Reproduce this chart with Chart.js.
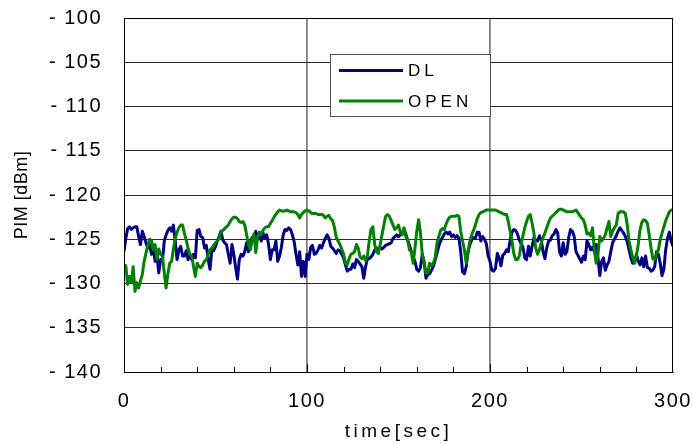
<!DOCTYPE html>
<html>
<head>
<meta charset="utf-8">
<script src="https://cdn.jsdelivr.net/npm/chart.js@4.4.1/dist/chart.umd.min.js"></script>
<style>
  html, body { margin: 0; padding: 0; background: #ffffff; }
  #wrap { width: 693px; height: 444px; }
</style>
</head>
<body>
<div id="wrap"><canvas id="c" width="693" height="444"></canvas></div>
<script>
// ---- data (one sample per second, 0..300 s) ----
const sampleCount = 301;
const timeSec = Array.from({ length: sampleCount }, (_, i) => i);

const dlValues = [
  -126.4, -124.9, -123.8, -123.6, -123.9, -123.7, -123.6, -123.6, -124.7, -125.6,
  -124.1, -124.7, -125.4, -126.0, -125.6, -126.7, -126.0, -127.5, -126.7, -128.8,
  -127.3, -127.5, -125.2, -124.5, -124.0, -123.7, -124.1, -123.4, -125.2, -127.3,
  -126.2, -125.8, -126.9, -126.9, -126.3, -127.3, -126.9, -127.3, -126.7, -127.1,
  -124.0, -123.9, -124.7, -124.8, -126.0, -125.7, -127.3, -128.4, -126.2, -126.3,
  -125.8, -125.2, -124.7, -124.1, -125.1, -125.4, -125.6, -126.7, -127.7, -125.6,
  -126.7, -128.2, -129.5, -127.3, -126.7, -126.9, -126.4, -125.4, -126.4, -125.4,
  -124.8, -124.9, -124.1, -124.9, -124.7, -125.2, -124.3, -124.9, -124.5, -125.6,
  -127.3, -126.2, -126.2, -125.2, -127.5, -126.9, -125.9, -124.5, -123.9, -124.0,
  -123.7, -123.9, -124.5, -125.3, -126.7, -127.9, -126.4, -129.2, -127.5, -129.2,
  -126.7, -127.3, -125.9, -125.7, -126.7, -126.6, -126.2, -125.7, -126.0, -125.4,
  -124.9, -124.5, -124.9, -125.8, -126.0, -126.3, -126.6, -126.2, -126.3, -126.7,
  -127.1, -127.9, -128.6, -128.4, -128.4, -127.8, -128.2, -127.3, -127.5, -127.8,
  -128.1, -129.4, -128.1, -127.2, -127.2, -127.0, -126.7, -126.2, -126.0, -126.1,
  -125.9, -126.1, -125.9, -125.7, -125.6, -125.5, -125.4, -124.9, -124.7, -124.5,
  -124.7, -124.5, -124.2, -123.9, -124.4, -125.1, -125.7, -126.4, -127.0, -127.5,
  -128.4, -128.6, -128.2, -126.7, -127.5, -129.4, -129.0, -128.9, -128.5, -128.1,
  -127.4, -126.6, -125.8, -125.2, -124.8, -124.4, -124.2, -124.4, -124.2, -124.7,
  -124.5, -124.8, -124.6, -124.9, -126.4, -128.7, -128.9, -128.1, -126.4, -125.6,
  -125.1, -124.8, -124.9, -124.2, -124.2, -125.2, -124.7, -125.0, -125.5, -126.9,
  -127.5, -128.5, -128.6, -128.3, -126.6, -127.1, -128.0, -126.8, -126.6, -126.2,
  -126.4, -125.1, -124.2, -123.9, -124.0, -124.4, -125.1, -125.5, -125.9, -127.1,
  -127.3, -125.8, -126.9, -125.8, -124.8, -125.1, -125.2, -124.6, -125.1, -126.4,
  -127.2, -126.0, -125.2, -125.1, -124.6, -124.4, -123.9, -124.3, -126.4, -126.9,
  -125.4, -126.7, -126.4, -124.8, -123.9, -124.1, -124.7, -126.4, -126.8, -127.2,
  -127.6, -126.9, -127.3, -125.2, -125.6, -126.2, -125.9, -126.4, -125.6, -127.1,
  -129.1, -127.5, -127.1, -128.5, -127.9, -127.5, -126.4, -125.4, -125.0, -124.6,
  -124.1, -123.7, -124.0, -124.3, -124.7, -125.3, -126.2, -127.1, -127.7, -127.6,
  -126.7, -127.5, -127.9, -127.1, -128.1, -126.9, -128.2, -128.3, -128.6, -128.5,
  -128.1, -126.4, -126.7, -127.7, -129.1, -128.4, -126.2, -124.9, -124.2, -125.2,
  -125.8
];

const openValues = [
  -127.9, -128.0, -130.1, -129.2, -129.9, -128.1, -130.9, -129.9, -130.5, -129.7,
  -129.0, -127.5, -126.6, -125.7, -125.0, -125.1, -126.2, -125.6, -127.3, -126.1,
  -126.7, -126.9, -128.8, -130.5, -128.9, -127.7, -127.5, -126.1, -124.9, -124.2,
  -123.7, -123.4, -123.4, -124.3, -125.1, -126.0, -126.7, -126.9, -128.1, -129.2,
  -127.7, -128.1, -128.2, -127.9, -127.5, -127.3, -126.7, -126.2, -126.0, -125.7,
  -125.4, -125.2, -124.9, -124.2, -124.0, -123.8, -123.6, -123.4, -123.0, -122.7,
  -122.5, -122.5, -122.7, -123.0, -123.1, -123.0, -123.4, -124.5, -125.6, -126.2,
  -125.1, -124.4, -126.5, -124.7, -124.2, -124.4, -124.0, -123.7, -123.6, -123.6,
  -123.2, -122.9, -122.5, -122.2, -121.9, -121.7, -121.8, -121.8, -121.8, -121.7,
  -121.8, -121.9, -121.9, -121.9, -122.0, -122.2, -122.6, -122.2, -122.0, -121.8,
  -121.7, -121.8, -122.0, -122.1, -122.1, -122.1, -122.2, -122.2, -122.2, -122.3,
  -122.6, -122.4, -122.3, -122.7, -122.9, -123.7, -124.8, -125.2, -125.6, -126.1,
  -126.7, -127.7, -127.9, -127.2, -126.7, -126.6, -126.4, -125.6, -126.0, -127.0,
  -127.2, -126.9, -127.4, -126.9, -125.2, -123.9, -123.6, -125.6, -126.4, -126.6,
  -125.6, -124.5, -123.4, -122.4, -122.2, -122.4, -122.9, -123.4, -123.9, -123.7,
  -123.4, -124.2, -124.5, -123.7, -124.7, -125.1, -126.2, -126.4, -127.7, -126.0,
  -124.1, -122.8, -124.3, -126.7, -127.7, -128.8, -128.8, -127.7, -128.0, -127.7,
  -127.1, -125.5, -124.7, -124.0, -123.8, -123.9, -123.3, -122.8, -122.5, -122.4,
  -122.4, -122.4, -122.3, -122.4, -124.1, -125.2, -126.2, -127.7, -126.4, -125.2,
  -124.5, -124.0, -123.4, -122.7, -122.2, -122.0, -121.9, -121.8, -121.7, -121.7,
  -121.7, -121.7, -121.7, -121.7, -121.8, -121.9, -122.0, -122.1, -122.2, -122.2,
  -123.0, -124.1, -125.2, -126.6, -127.3, -127.3, -126.9, -125.6, -124.6, -123.7,
  -123.0, -122.4, -122.2, -123.2, -124.3, -126.0, -126.7, -126.2, -125.4, -124.8,
  -124.3, -123.7, -123.1, -122.6, -122.4, -122.2, -122.0, -121.8, -121.6, -121.6,
  -121.7, -121.8, -121.9, -121.9, -121.9, -121.9, -121.8, -121.7, -122.0, -122.3,
  -122.6, -122.8, -123.4, -124.4, -124.3, -124.6, -123.7, -126.2, -127.7, -126.7,
  -124.7, -125.2, -124.9, -124.5, -123.7, -123.0, -124.7, -124.1, -123.7, -123.4,
  -122.1, -121.9, -121.9, -121.9, -122.1, -123.4, -125.2, -126.2, -127.1, -127.7,
  -126.9, -125.6, -123.9, -123.1, -122.8, -122.9, -123.2, -124.5, -126.0, -127.2,
  -127.3, -126.7, -126.2, -125.1, -124.3, -123.6, -122.9, -122.4, -121.9, -121.7,
  -121.7
];

const seriesNames = ['DL', 'OPEN'];
const seriesColors = ['#000080', '#008000'];

const xMin = 0, xMax = 300, xMinorStep = 20, xMajorStep = 100;
const yMin = -140, yMax = -100, yStep = 5;
const xTitle = 'time[sec]';
const yTitle = 'PIM [dBm]';

// ---- build library data ----
const toPoints = vals => timeSec.map((t, i) => ({ x: t, y: vals[i] }));

const FONT = "'Liberation Sans', Arial, sans-serif";

const framePlugin = {
  id: 'frameAndLegend',
  beforeDraw(chart) {
    const ctx = chart.ctx;
    ctx.letterSpacing = '1.5px';
    const spacings = { x: '3.5px', y: '0.5px' };
    Object.keys(spacings).forEach(id => {
      const s = chart.scales[id];
      if (s && !s.__patched) {
        const orig = s.drawTitle;
        s.drawTitle = function (...a) {
          const c = this.ctx;
          const prev = c.letterSpacing;
          c.letterSpacing = spacings[id];
          orig.apply(this, a);
          c.letterSpacing = prev;
        };
        s.__patched = true;
      }
    });
  },
  afterDatasetsDraw(chart) {
    const ctx = chart.ctx;
    const ca = chart.chartArea;
    const xs = chart.scales.x;
    ctx.save();
    // inner tick marks on the time axis
    ctx.strokeStyle = '#000';
    ctx.lineWidth = 1;
    for (let v = xMin + xMinorStep; v < xMax; v += xMinorStep) {
      const px = Math.round(xs.getPixelForValue(v)) + 0.5;
      const len = (v % xMajorStep === 0) ? 8 : 5;
      ctx.beginPath();
      ctx.moveTo(px, ca.bottom);
      ctx.lineTo(px, ca.bottom - len);
      ctx.stroke();
    }
    // frame
    ctx.strokeRect(Math.round(ca.left) + 0.5, Math.round(ca.top) + 0.5,
                   Math.round(ca.right - ca.left) - 1, Math.round(ca.bottom - ca.top));
    // legend box
    const bx = Math.round(ca.left) + 206, by = Math.round(ca.top) + 36;
    const bw = 160, bh = 62;
    ctx.fillStyle = '#ffffff';
    ctx.fillRect(bx, by, bw, bh);
    ctx.strokeStyle = '#555555';
    ctx.strokeRect(bx + 0.5, by + 0.5, bw, bh);
    const rowY = [16.5, 47];
    chart.data.datasets.forEach((ds, i) => {
      const y = by + rowY[i];
      ctx.strokeStyle = ds.borderColor;
      ctx.lineWidth = 3;
      ctx.beginPath();
      ctx.moveTo(bx + 9, y);
      ctx.lineTo(bx + 73, y);
      ctx.stroke();
      ctx.fillStyle = '#000';
      ctx.font = '17px ' + FONT;
      ctx.letterSpacing = '4px';
      ctx.textAlign = 'left';
      ctx.textBaseline = 'middle';
      ctx.fillText(ds.label, bx + 78, y + 1);
    });
    ctx.restore();
  }
};

new Chart(document.getElementById('c'), {
  type: 'line',
  data: {
    datasets: [
      {
        label: seriesNames[0],
        data: toPoints(dlValues),
        borderColor: seriesColors[0],
        backgroundColor: seriesColors[0],
        borderWidth: 3,
        pointRadius: 0,
        tension: 0,
        borderJoinStyle: 'round',
        fill: false,
        order: 1
      },
      {
        label: seriesNames[1],
        data: toPoints(openValues),
        borderColor: seriesColors[1],
        backgroundColor: seriesColors[1],
        borderWidth: 3,
        pointRadius: 0,
        tension: 0,
        borderJoinStyle: 'round',
        fill: false,
        order: 0
      }
    ]
  },
  options: {
    responsive: false,
    animation: false,
    devicePixelRatio: 1,
    layout: { padding: { top: 18, right: 20, left: 0, bottom: 0 } },
    plugins: {
      legend: { display: false },
      tooltip: { enabled: false }
    },
    scales: {
      x: {
        type: 'linear',
        min: xMin,
        max: xMax,
        afterFit: s => { s.height = 72; s.paddingLeft = 0; s.paddingRight = 0; },
        ticks: {
          stepSize: xMinorStep,
          autoSkip: false,
          maxRotation: 0,
          padding: 17,
          color: '#000',
          font: { family: FONT, size: 20 },
          callback: v => (v % xMajorStep === 0 ? String(v) : '')
        },
        grid: {
          drawTicks: false,
          lineWidth: 1.8,
          color: c => (c.tick && c.tick.value % xMajorStep === 0 && c.tick.value > xMin && c.tick.value < xMax)
            ? '#808080' : 'rgba(0,0,0,0)'
        },
        border: { color: '#000', width: 1 },
        title: {
          display: true,
          text: xTitle,
          color: '#000',
          font: { family: FONT, size: 19 },
          padding: { top: 0, bottom: 1 }
        }
      },
      y: {
        type: 'linear',
        min: yMin,
        max: yMax,
        afterFit: s => { s.width = 124; s.paddingTop = 0; s.paddingBottom = 0; },
        ticks: {
          stepSize: yStep,
          padding: 22,
          color: '#000',
          font: { family: FONT, size: 20 },
          callback: v => '- ' + Math.abs(v)
        },
        grid: {
          drawTicks: false,
          color: '#2a2a2a',
          lineWidth: 1
        },
        border: { color: '#000', width: 1 },
        title: {
          display: true,
          text: yTitle,
          color: '#000',
          font: { family: FONT, size: 18 },
          padding: { top: 11, bottom: 0 }
        }
      }
    }
  },
  plugins: [framePlugin]
});
</script>
</body>
</html>
